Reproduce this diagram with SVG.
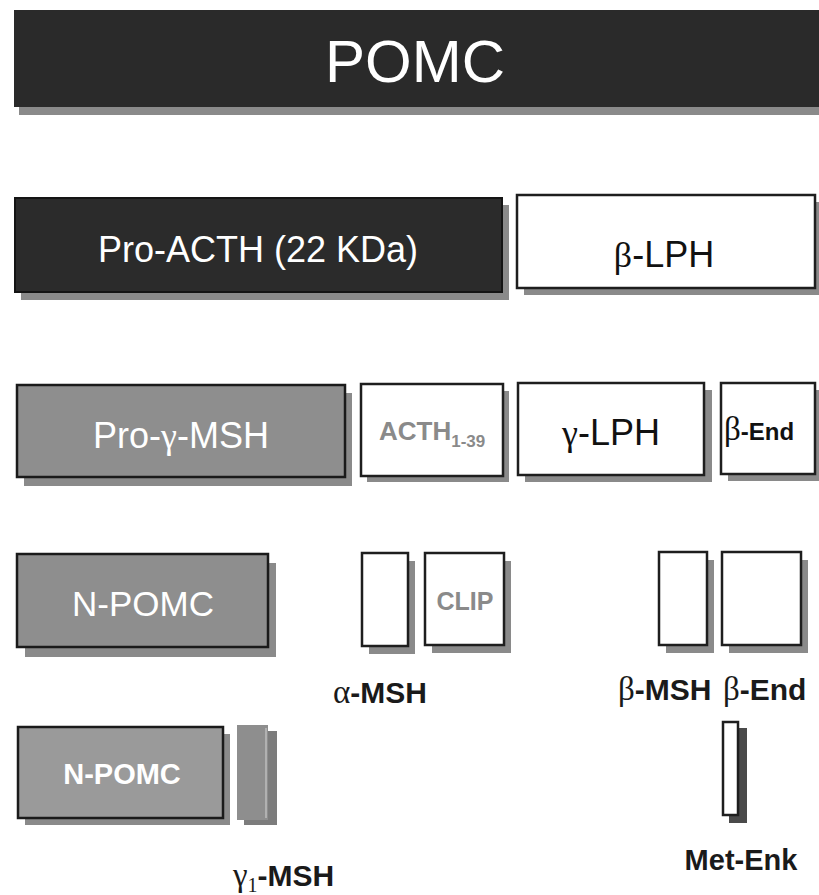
<svg xmlns="http://www.w3.org/2000/svg" width="819" height="895" viewBox="0 0 819 895">
<style>
text{font-family:"Liberation Sans",Arial,Helvetica,sans-serif}
.sh{fill:#8a8a8a}
.dark{fill:#2b2b2b;stroke:#141414;stroke-width:2}
.grey{fill:#8e8e8e;stroke:#1a1a1a;stroke-width:2.5}
.white{fill:#fff;stroke:#1e1e1e;stroke-width:2.5}
.wt{fill:#fff;font-size:36px;text-anchor:middle}
.bt{fill:#111;font-size:36px;text-anchor:middle}
.lbl{fill:#1a1a1a;font-size:30px;font-weight:bold}
.gk{font-family:"Liberation Serif","DejaVu Serif",serif;font-weight:normal}
.gt{fill:#8a8a8a;font-weight:bold}
</style>
<rect width="819" height="895" fill="#fff"/>

<g id="pomc">
<rect class="sh" x="19" y="17" width="800" height="98"/>
<rect x="14" y="10" width="805" height="97" fill="#2a2a2a"/>
<text class="wt" x="415" y="82" style="font-size:60px">POMC</text>
</g>

<g id="pro-acth">
<rect class="sh" x="21" y="205" width="488" height="95"/>
<rect class="dark" x="15" y="198" width="487" height="94"/>
<text class="wt" x="258" y="262">Pro-ACTH (22 KDa)</text>
</g>

<g id="beta-lph">
<rect class="sh" x="524" y="202" width="300" height="93"/>
<rect class="white" x="517" y="195" width="298" height="93"/>
<text class="bt" x="664" y="267"><tspan class="gk">β</tspan>-LPH</text>
</g>

<g id="pro-gamma-msh">
<rect class="sh" x="24" y="393" width="328" height="93"/>
<rect class="grey" x="17" y="385" width="328" height="92"/>
<text class="wt" x="181" y="448">Pro-<tspan class="gk">γ</tspan>-MSH</text>
</g>

<g id="acth">
<rect class="sh" x="367" y="391" width="142" height="91"/>
<rect class="white" x="361" y="384" width="142" height="92"/>
<text class="gt" x="379" y="440" style="font-size:26px">ACTH<tspan dy="7" style="font-size:17px">1-39</tspan></text>
</g>

<g id="gamma-lph">
<rect class="sh" x="525" y="390" width="187" height="92"/>
<rect class="white" x="518" y="383" width="186" height="92"/>
<text class="bt" x="611" y="445"><tspan class="gk">γ</tspan>-LPH</text>
</g>

<g id="beta-end-1">
<rect class="sh" x="728" y="390" width="94" height="91"/>
<rect class="white" x="721" y="383" width="94" height="91"/>
<text x="724" y="440" fill="#111" style="font-size:24px;font-weight:bold"><tspan class="gk" style="font-size:33px">β</tspan>-End</text>
</g>

<g id="n-pomc-1">
<rect class="sh" x="25" y="563" width="251" height="94"/>
<rect class="grey" x="17" y="554" width="251" height="93"/>
<text class="wt" x="143" y="616" style="font-size:35px">N-POMC</text>
</g>

<g id="alpha-msh">
<rect class="sh" x="369" y="561" width="46" height="93"/>
<rect class="white" x="362" y="553" width="46" height="93"/>
<text class="lbl" x="333" y="703"><tspan class="gk" style="font-size:33px">α</tspan>-MSH</text>
</g>

<g id="clip">
<rect class="sh" x="432" y="561" width="79" height="92"/>
<rect class="white" x="425" y="553" width="79" height="92"/>
<text class="gt" x="465" y="610" text-anchor="middle" style="font-size:25px">CLIP</text>
</g>

<g id="beta-msh">
<rect class="sh" x="666" y="560" width="48" height="93"/>
<rect class="white" x="659" y="552" width="48" height="93"/>
<text class="lbl" x="618" y="700"><tspan class="gk" style="font-size:33px">β</tspan>-MSH</text>
</g>

<g id="beta-end-2">
<rect class="sh" x="729" y="560" width="79" height="93"/>
<rect class="white" x="722" y="552" width="79" height="93"/>
<text class="lbl" x="723" y="700"><tspan class="gk" style="font-size:33px">β</tspan>-End</text>
</g>

<g id="n-pomc-2">
<rect class="sh" x="25" y="734" width="205" height="91"/>
<rect x="18" y="727" width="205" height="91" fill="#9a9a9a" stroke="#1a1a1a" stroke-width="2.5"/>
<text x="122" y="784" fill="#fff" text-anchor="middle" style="font-size:29px;font-weight:bold">N-POMC</text>
</g>

<g id="gamma1-msh">
<rect x="244" y="731" width="33" height="94" fill="#7c7c7c"/>
<rect x="237" y="725" width="31" height="95" fill="#8e8e8e"/>
<line x1="266" y1="728" x2="266" y2="818" stroke="#bdbdbd" stroke-width="1.5"/>
<text class="lbl" x="233" y="886"><tspan class="gk" style="font-size:33px">γ</tspan><tspan class="gk" dy="6" style="font-size:20px">1</tspan><tspan dy="-6">-MSH</tspan></text>
</g>

<g id="met-enk">
<rect x="729" y="728" width="18" height="95" fill="#4a4a4a"/>
<rect class="white" x="723" y="722" width="15" height="93"/>
<text class="lbl" x="741" y="870" text-anchor="middle" style="font-size:29px">Met-Enk</text>
</g>

<g id="connectors"></g>
</svg>
